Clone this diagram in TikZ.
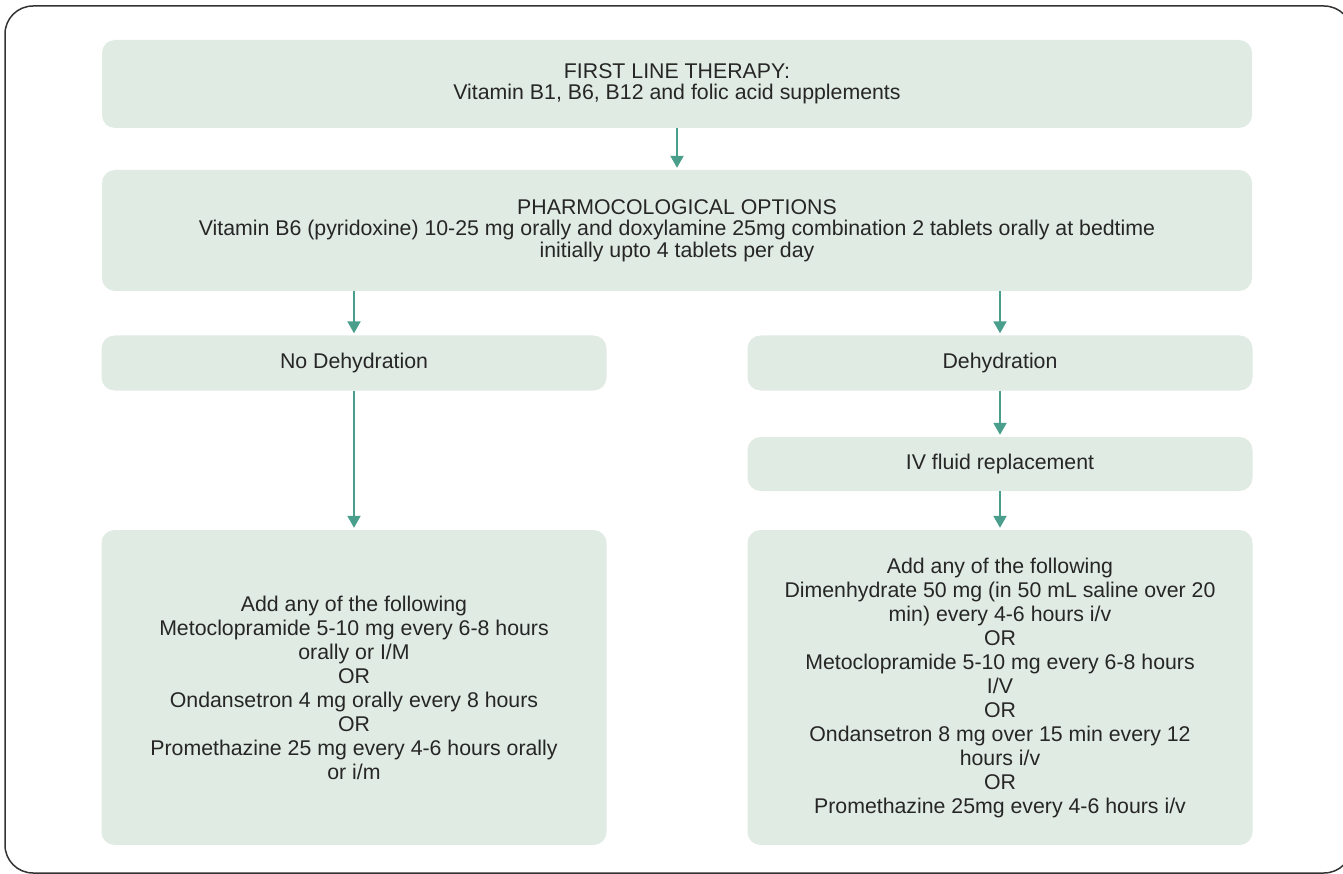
\documentclass[tikz,border=0pt]{standalone}
\usepackage{fontspec}
\setmainfont{Liberation Sans}
\usetikzlibrary{arrows.meta}
\definecolor{boxfill}{HTML}{E0EBE3}
\definecolor{arrteal}{HTML}{4A9E8C}
\definecolor{framegray}{HTML}{333333}
\begin{document}
\begin{tikzpicture}[x=1pt,y=-1pt,
  box/.style={fill=boxfill, rounded corners=13pt, align=center, inner sep=0pt, text=black!85},
  toptext/.style={font=\fontsize{21.3}{21.5}\selectfont},
  lowtext/.style={font=\fontsize{21.3}{24}\selectfont},
  arr/.style={draw=arrteal, line width=2pt, -{Triangle[width=13pt,length=12pt]}, shorten >=2pt}]
\useasboundingbox (0,0) rectangle (1343,874);
\draw[framegray, line width=1.5pt, rounded corners=28pt] (5,6) rectangle (1352,873);
\node[box, toptext, minimum width=1150pt, minimum height=88pt] (1) at (677,84)
  {FIRST LINE THERAPY:\\Vitamin B1, B6, B12 and folic acid supplements};
\node[box, toptext, minimum width=1150pt, minimum height=121pt] (2) at (677,230.5)
  {PHARMOCOLOGICAL OPTIONS\\Vitamin B6 (pyridoxine) 10-25 mg orally and doxylamine 25mg combination 2 tablets orally at bedtime\\initially upto 4 tablets per day};
\node[box, toptext, minimum width=505pt, minimum height=55pt] (3) at (354,363) {No Dehydration};
\node[box, toptext, minimum width=505pt, minimum height=55pt] (4) at (1000,363) {Dehydration};
\node[box, toptext, minimum width=505pt, minimum height=54pt] (5) at (1000,464) {IV fluid replacement};
\node[box, lowtext, minimum width=505pt, minimum height=315pt] (6) at (354,687.5)
  {Add any of the following\\Metoclopramide 5-10 mg every 6-8 hours\\orally or I/M\\OR\\Ondansetron 4 mg orally every 8 hours\\OR\\Promethazine 25 mg every 4-6 hours orally\\or i/m};
\node[box, lowtext, minimum width=505pt, minimum height=315pt] (7) at (1000,687.5)
  {Add any of the following\\Dimenhydrate 50 mg (in 50 mL saline over 20\\min) every 4-6 hours i/v\\OR\\Metoclopramide 5-10 mg every 6-8 hours\\I/V\\OR\\Ondansetron 8 mg over 15 min every 12\\hours i/v\\OR\\Promethazine 25mg every 4-6 hours i/v};
\path[arr] (1) -- (2);
\path[arr] (2.south -| 3.north) -- (3);
\path[arr] (2.south -| 4.north) -- (4);
\path[arr] (4) -- (5);
\path[arr] (3) -- (6);
\path[arr] (5) -- (7);
\end{tikzpicture}
\end{document}
